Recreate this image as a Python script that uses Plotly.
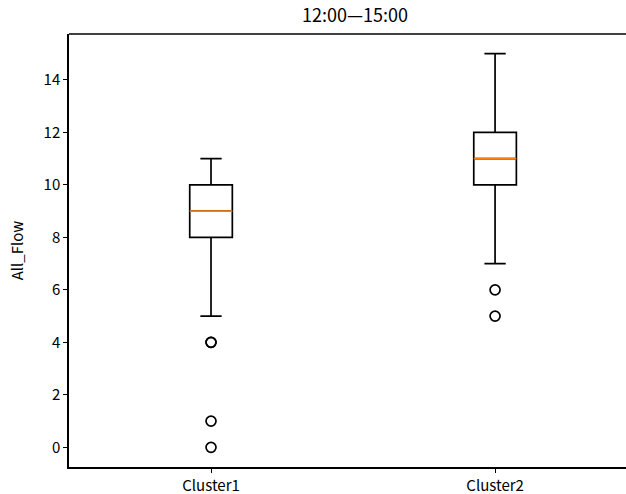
import plotly.graph_objects as go

categories = ["Cluster1", "Cluster2"]
positions = [1, 2]
q1 = [8, 10]
median = [9, 11]
q3 = [10, 12]
lower_whisker = [5, 7]
upper_whisker = [11, 15]
outliers = [[4, 4, 1, 0], [6, 5]]

FONT = "Noto Sans CJK SC, Open Sans, sans-serif"

fig = go.Figure()

# main boxes (black)
fig.add_trace(go.Box(
    x=positions, q1=q1, median=median, q3=q3,
    lowerfence=lower_whisker, upperfence=upper_whisker,
    width=0.15, whiskerwidth=0.5,
    line=dict(color="black", width=1.7),
    fillcolor="rgba(0,0,0,0)",
    boxpoints=False, showlegend=False, hoverinfo="skip",
))
# median overlay (orange)
fig.add_trace(go.Box(
    x=positions, q1=median, median=median, q3=median,
    lowerfence=median, upperfence=median,
    width=0.15, whiskerwidth=1,
    line=dict(color="#ff7f0e", width=1.6),
    fillcolor="rgba(0,0,0,0)",
    boxpoints=False, showlegend=False, hoverinfo="skip",
))
# outliers
for pos, pts in zip(positions, outliers):
    fig.add_trace(go.Scatter(
        x=[pos] * len(pts), y=pts, mode="markers",
        marker=dict(symbol="circle-open", size=10, color="black",
                    line=dict(width=1.7, color="black")),
        showlegend=False, hoverinfo="skip",
    ))

fig.update_layout(
    width=626, height=494,
    margin=dict(l=69, r=0, t=34, b=27, autoexpand=False),
    paper_bgcolor="white", plot_bgcolor="white",
    boxmode="overlay",
    font=dict(family=FONT, size=15, color="black"),
    title=dict(text="12:00\u201415:00", x=355 / 626, xref="container",
               xanchor="center", y=1 - 16 / 494, yref="container",
               yanchor="middle", font=dict(size=18, family=FONT, color="black")),
    xaxis=dict(
        range=[0.5, 0.5 + (626 - 68.5) / 284.3],
        tickvals=positions, ticktext=categories,
        showgrid=False, zeroline=False, automargin=False,
        showline=True, linecolor="black", linewidth=1.5,
        ticks="outside", ticklen=4, tickwidth=1.2, tickcolor="black",
        tickfont=dict(size=15, family=FONT),
    ),
    yaxis=dict(
        range=[-0.75, 15.75],
        tickvals=[0, 2, 4, 6, 8, 10, 12, 14],
        showgrid=False, zeroline=False, automargin=False,
        showline=True, linecolor="black", linewidth=1.5,
        ticks="outside", ticklen=4, tickwidth=1.2, tickcolor="black",
        tickfont=dict(size=15, family=FONT),
        title=dict(text="All_Flow", font=dict(size=15, family=FONT), standoff=16),
    ),
    shapes=[dict(type="line", xref="paper", yref="paper", x0=0, x1=1, y0=1, y1=1,
                 line=dict(color="black", width=1.5))],
)

fig.write_html(
    "out.html",
    config={"displayModeBar": False},
    post_script="document.body.style.margin='0';document.body.style.overflow='hidden';",
)
